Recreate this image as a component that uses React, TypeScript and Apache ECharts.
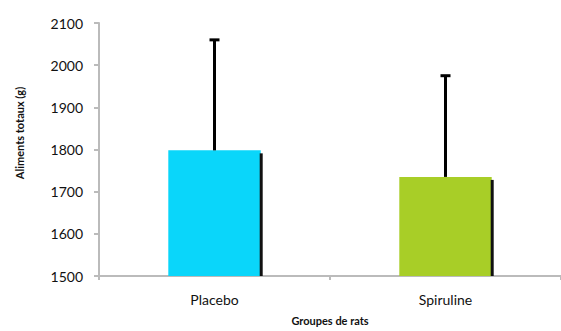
import React, { useEffect, useRef } from "react";
import * as echarts from "echarts";

const categories = ["Placebo", "Spiruline"];
const means = [1798, 1735];
const errorTops = [2060, 1975];
const barColors = ["#0AD6FA", "#A8CE27"];
const yTicks = [1500, 1600, 1700, 1800, 1900, 2000, 2100];

export default function App() {
  const ref = useRef<HTMLDivElement>(null);
  useEffect(() => {
    if (!ref.current) return;
    const chart = echarts.init(ref.current, undefined, { renderer: "svg" });
    const font = "Lato, 'Open Sans', sans-serif";
    chart.setOption({
      animation: false,
      backgroundColor: "#fff",
      grid: { left: 99, right: -8, top: 23, bottom: 49, containLabel: false },
      xAxis: {
        type: "category",
        data: categories,
        axisLine: { lineStyle: { color: "#BBBBBB", width: 2 } },
        axisTick: { show: true, alignWithLabel: false, length: 4, lineStyle: { color: "#BBBBBB", width: 2 } },
        axisLabel: { color: "#111", fontSize: 14, fontFamily: font, margin: 16 },
        name: "Groupes de rats",
        nameLocation: "middle",
        nameGap: 39,
        nameTextStyle: { color: "#111", fontSize: 11, fontWeight: "bold", fontFamily: font },
      },
      yAxis: {
        type: "value",
        min: yTicks[0],
        max: yTicks[yTicks.length - 1],
        interval: 100,
        splitLine: { show: false },
        axisLine: { show: true, lineStyle: { color: "#BBBBBB", width: 2 } },
        axisTick: { show: true, length: 5, lineStyle: { color: "#BBBBBB", width: 2 } },
        axisLabel: { color: "#111", fontSize: 14, fontFamily: font, margin: 16, formatter: (v: number) => String(v) },
      },
      graphic: [
        {
          type: "text",
          x: 19,
          y: 133,
          rotation: Math.PI / 2,
          style: {
            text: "Aliments totaux (g)",
            fill: "#111",
            fontSize: 11,
            fontWeight: "bold",
            fontFamily: font,
            align: "center",
            verticalAlign: "middle",
          },
        },
      ],
      series: [
        {
          type: "bar",
          data: means.map((v, i) => ({ value: v, itemStyle: { color: barColors[i] } })),
          barWidth: "40%",
          z: 2,
        },
        {
          type: "custom",
          z: 3,
          data: means.map((v, i) => [i, v, errorTops[i]]),
          renderItem: (params: any, api: any) => {
            const i = api.value(0);
            const top = api.coord([i, api.value(1)]);
            const err = api.coord([i, api.value(2)]);
            const base = api.coord([i, yTicks[0]]);
            const bw = api.size([1, 0])[0] * 0.4;
            const rightX = top[0] + bw / 2;
            return {
              type: "group",
              children: [
                {
                  type: "line",
                  shape: { x1: top[0], y1: top[1], x2: err[0], y2: err[1] },
                  style: { stroke: "#000", lineWidth: 3 },
                },
                {
                  type: "line",
                  shape: { x1: err[0] - 5, y1: err[1], x2: err[0] + 5, y2: err[1] },
                  style: { stroke: "#000", lineWidth: 3 },
                },
                {
                  type: "rect",
                  shape: { x: rightX - 1, y: top[1] + 3, width: 3, height: base[1] - top[1] - 3 },
                  style: { fill: "#111" },
                },
              ],
            };
          },
        },
      ],
    });
    return () => chart.dispose();
  }, []);
  return <div ref={ref} style={{ width: 561, height: 331, position: "absolute", left: 0, top: 0 }} />;
}
